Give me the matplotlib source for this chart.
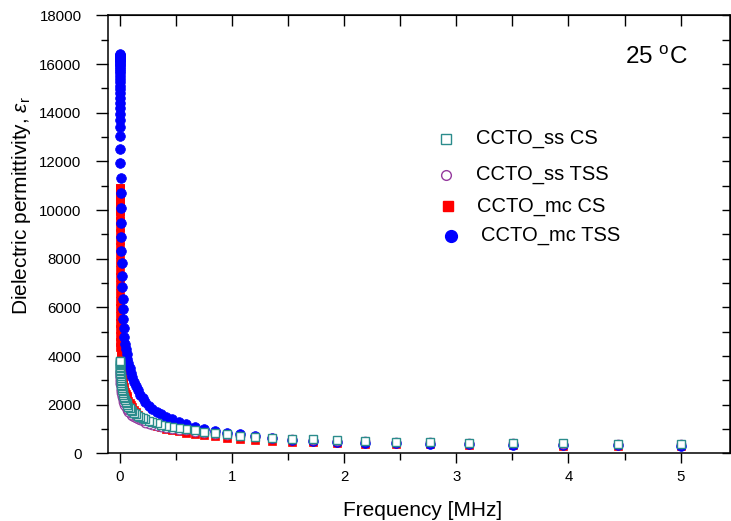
import matplotlib
matplotlib.use('Agg')
import matplotlib.pyplot as plt
from matplotlib.ticker import MultipleLocator

plt.rcParams['font.family'] = ['Liberation Sans', 'DejaVu Sans']
plt.rcParams['mathtext.fontset'] = 'custom'
plt.rcParams['mathtext.rm'] = 'Liberation Sans'
plt.rcParams['mathtext.it'] = 'Liberation Sans:italic'

# frequency points (MHz), from 5 MHz downwards
freq_mhz = [5.000, 4.443, 3.948, 3.508, 3.117, 2.769, 2.460, 2.186, 1.942, 1.726,
            1.533, 1.362, 1.210, 1.075, 0.955, 0.849, 0.754, 0.670, 0.595, 0.529,
            0.470, 0.418, 0.371, 0.330, 0.293, 0.260, 0.231, 0.2055, 0.1826, 0.1622,
            0.1441, 0.1281, 0.1138, 0.1011, 0.0898, 0.0798, 0.0709, 0.0630, 0.0560, 0.0497,
            0.0442, 0.0393, 0.0349, 0.0310, 0.0275, 0.0245, 0.0217, 0.0193, 0.0172, 0.0153,
            0.0136, 0.0120, 0.0107, 0.0095, 0.0084, 0.0075, 0.0067, 0.0059, 0.0053, 0.0047,
            0.0042, 0.0037, 0.0033, 0.0029, 0.0026, 0.0023, 0.0020, 0.0018, 0.0016, 0.0014,
            0.0013, 0.0011, 0.0010, 0.00089, 0.00079, 0.00070, 0.00062, 0.00055, 0.00049, 0.00044,
            0.00039, 0.00035, 0.00031, 0.00027, 0.00024, 0.00022]

ss_cs = [400, 405, 415, 420, 440, 470, 485, 515, 535, 580,
         610, 655, 690, 735, 810, 855, 890, 950, 1005, 1050,
         1090, 1140, 1190, 1240, 1300, 1350, 1400, 1460, 1510, 1560,
         1610, 1670, 1730, 1790, 1850, 1920, 1990, 2060, 2130, 2200,
         2270, 2340, 2410, 2480, 2550, 2620, 2690, 2760, 2830, 2900,
         2970, 3040, 3110, 3180, 3250, 3320, 3390, 3450, 3510, 3570,
         3620, 3670, 3710, 3750, 3790, 3820]

ss_tss = [395, 400, 405, 415, 430, 455, 470, 500, 520, 560,
          590, 630, 665, 705, 770, 815, 845, 900, 945, 985,
          1020, 1060, 1100, 1140, 1190, 1230, 1270, 1320, 1360, 1400,
          1450, 1500, 1550, 1600, 1650, 1710, 1770, 1830, 1890, 1950,
          2010, 2070, 2130, 2190, 2250, 2310, 2370, 2430, 2490, 2550,
          2610, 2670, 2730, 2790, 2850, 2910, 2970, 3030, 3090, 3140,
          3190, 3240, 3280, 3320, 3350, 3380]

mc_cs = [295, 310, 325, 340, 355, 370, 390, 410, 435, 460,
         490, 520, 560, 600, 650, 700, 755, 810, 860, 910,
         960, 1020, 1080, 1140, 1200, 1270, 1340, 1420, 1510, 1600,
         1700, 1800, 1900, 2000, 2090, 2170, 2260, 2350, 2440, 2530,
         2620, 2720, 2820, 2920, 3030, 3140, 3250, 3370, 3490, 3610,
         3740, 3870, 4000, 4180, 4380, 4600, 4840, 5100, 5380, 5670,
         5970, 6280, 6600, 6920, 7240, 7560, 7880, 8190, 8490, 8780,
         9060, 9320, 9560, 9780, 9980, 10160, 10320, 10460, 10580, 10680,
         10760, 10820, 10860, 10890, 10910]

mc_tss = [325, 335, 345, 355, 370, 390, 415, 445, 480, 520,
          570, 630, 700, 780, 860, 920, 1000, 1100, 1200, 1300,
          1400, 1500, 1610, 1720, 1840, 1970, 2110, 2260, 2420, 2590,
          2770, 2950, 3130, 3320, 3510, 3700, 3890, 4080, 4280, 4500,
          4780, 5150, 5520, 5930, 6340, 6840, 7290, 7830, 8320, 8900,
          9470, 10090, 10710, 11330, 11940, 12520, 13060, 13420, 13700, 13960,
          14200, 14420, 14620, 14800, 14970, 15120, 15260, 15390, 15510, 15620,
          15720, 15810, 15890, 15960, 16020, 16080, 16130, 16180, 16220, 16260,
          16290, 16320, 16345, 16370, 16390, 16410]

labels = ['CCTO_ss CS', 'CCTO_ss TSS', 'CCTO_mc CS', 'CCTO_mc TSS']
teal = '#2b8c8c'
purple = '#953a9e'

fig = plt.figure(figsize=(7.31, 5.21), dpi=100)
ax = fig.add_axes([0.1477, 0.1296, 0.851, 0.8407])

ax.plot(freq_mhz[:len(mc_cs)], mc_cs, 's', ms=5.5, color='#ff0000', mec='#ff0000', mew=0.5)
ax.plot(freq_mhz[:len(mc_tss)], mc_tss, 'o', ms=7, color='#0000ff', mec='#0000ff', mew=0.5)
ax.plot(freq_mhz[:len(ss_tss)], ss_tss, 'o', ms=6.2, mfc='white', mec=purple, mew=0.8)
ax.plot(freq_mhz[:len(ss_cs)], ss_cs, 's', ms=6.2, mfc='white', mec=teal, mew=1.0)

ax.set_xlim(-0.103, 5.44)
ax.set_ylim(0, 18000)
ax.xaxis.set_major_locator(MultipleLocator(1))
ax.xaxis.set_minor_locator(MultipleLocator(0.5))
ax.yaxis.set_major_locator(MultipleLocator(2000))
ax.yaxis.set_minor_locator(MultipleLocator(1000))
ax.tick_params(axis='x', which='major', direction='out', length=7, width=1, labelsize=10.8, pad=5)
ax.tick_params(axis='x', which='minor', direction='out', length=5, width=1)
ax.tick_params(axis='y', which='major', direction='out', length=9, width=1, labelsize=10.8, pad=10)
ax.tick_params(axis='y', which='minor', direction='out', length=5, width=1)

# mirrored ticks on top/right pointing inwards
top = ax.secondary_xaxis('top')
top.xaxis.set_major_locator(MultipleLocator(1))
top.xaxis.set_minor_locator(MultipleLocator(0.5))
top.tick_params(which='both', direction='in', length=8, width=1, labeltop=False)
right = ax.secondary_yaxis('right')
right.yaxis.set_major_locator(MultipleLocator(2000))
right.yaxis.set_minor_locator(MultipleLocator(1000))
right.tick_params(which='both', direction='in', length=6, width=1, labelright=False)
for s in ax.spines.values():
    s.set_linewidth(1.1)

ax.set_xlabel('Frequency [MHz]', fontsize=15)
ax.xaxis.set_label_coords(0.506, -0.108)
ax.set_ylabel(r'Dielectric permittivity, $\varepsilon_\mathrm{r}$', fontsize=15)
ax.yaxis.set_label_coords(-0.12, 0.567)

ax.text(0.881, 0.903, r'25 $^\mathrm{o}$C', transform=ax.transAxes, fontsize=17.5,
        ha='center', va='center')

# hand-placed legend
leg_rows = [
    (0.544, 0.718, 0.591, dict(marker='s', ms=7, mfc='white', mec=teal, mew=1.0)),
    (0.544, 0.636, 0.591, dict(marker='o', ms=7, mfc='white', mec=purple, mew=1.0)),
    (0.546, 0.565, 0.594, dict(marker='s', ms=7, color='#ff0000')),
    (0.552, 0.497, 0.599, dict(marker='o', ms=8.5, color='#0000ff')),
]
for (mx, my, tx, style), lab in zip(leg_rows, labels):
    ax.plot([mx], [my], transform=ax.transAxes, clip_on=False, ls='none', **style)
    ax.text(tx, my, lab, transform=ax.transAxes, fontsize=14.5, va='center', ha='left')

fig.savefig('out.png', dpi=100)
